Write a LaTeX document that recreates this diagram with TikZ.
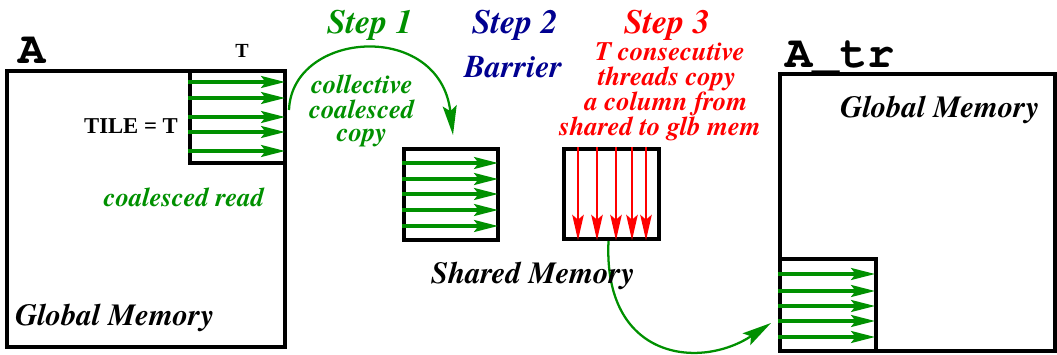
\documentclass[tikz,border=0pt]{standalone}
\usepackage{fontspec}
\setmainfont{Liberation Serif}
\newfontfamily\tbi{texgyretermes-bolditalic.otf}
\newfontfamily\cour{texgyrecursor-bold.otf}
\usetikzlibrary{arrows.meta,fit}
\definecolor{fgreen}{RGB}{0,144,0}
\definecolor{fblue}{RGB}{0,0,144}
\definecolor{fred}{RGB}{255,0,0}
\begin{document}
\begin{tikzpicture}[x=0.75pt,y=-0.75pt,
  box/.style={draw=black, line width=3pt, inner sep=0pt},
  garr/.style={draw=fgreen, line width=2.3pt, -{Stealth[length=18pt,width=9pt,inset=3.5pt]}},
  rarr/.style={draw=fred, line width=2.2pt, -{Stealth[length=19pt,width=8.5pt,inset=3.5pt]}},
  curvearr/.style={draw=fgreen, line width=1.7pt, -{Stealth[length=22pt,width=10.5pt,inset=4pt]}},
  txt/.style={inner sep=0pt, anchor=base},
  steplbl/.style={txt, font=\fontsize{25.5}{30}\selectfont\tbi},
  memlbl/.style={txt, font=\fontsize{23}{27}\selectfont\tbi},
  note/.style={txt, font=\fontsize{20}{24}\selectfont\tbi},
  mono/.style={txt, font=\fontsize{34}{36}\selectfont\cour},
]
\useasboundingbox (0,0) rectangle (1057,354);

% boxes
\node[box, fit={(7,71) (285,347)}] (A) {};
\node[box, fit={(190,71) (285,163)}] (tileA) {};
\node[box, fit={(404,149) (498,240)}] (sh1) {};
\node[box, fit={(564,149) (659,239)}] (sh2) {};
\node[box, fit={(780,74) (1055,351)}] (Atr) {};
\node[box, fit={(780,259) (876,351)}] (tileB) {};

% arrows inside tiles
\foreach \y in {82,98,117,132,151}
  \draw[garr] (tileA.west |- 0,\y) -- ([xshift=-1.5pt]tileA.east |- 0,\y);
\foreach \y in {163,179,194,210,226}
  \draw[garr] (sh1.west |- 0,\y) -- ([xshift=-1.5pt]sh1.east |- 0,\y);
\foreach \x in {578,597,616,632,646}
  \draw[rarr] (\x,0 |- sh2.north) -- ([yshift=0.5pt]\x,0 |- sh2.south);
\foreach \y in {274,291,306,321,337}
  \draw[garr] (tileB.west |- 0,\y) -- ([xshift=-2.25pt]tileB.east |- 0,\y);

% curved arrows
\draw[curvearr] ([shift={(2,-7)}]tileA.east) .. controls (292,30) and (440,20) .. ([shift={(2,-12)}]sh1.north);
\draw[curvearr] ([shift={(-3,0)}]sh2.south) .. controls (603,360) and (700,370) .. ([shift={(-7,18)}]tileB.west);

% labels
\node[mono] (lA) at (32,63) {A};
\node[mono] (lAtr) at (840,67) {A\_tr};
\node[txt, font=\fontsize{15}{17}\selectfont\bfseries] (lT) at (242,57) {T};
\node[txt, anchor=base east, font=\fontsize{17}{20}\selectfont\bfseries] (tile) at (178,133) {TILE = T};
\node[note, text=fgreen] (cread) at (184,206) {coalesced read};
\node[memlbl, anchor=base west] (gm1) at (15,325) {Global Memory};
\node[memlbl] (gm2) at (940,117) {Global Memory};
\node[memlbl] (shm) at (533,283) {Shared Memory};

\node[steplbl, text=fgreen] (s1) at (370,33) {Step 1};
\node[steplbl, text=fblue] (s2) at (515,33) {Step 2};
\node[steplbl, text=fred] (s3) at (667,33) {Step 3};
\node[txt, text=fblue, font=\fontsize{23.8}{28}\selectfont\tbi] (bar) at (513,77) {Barrier};

\node[note, text=fgreen] (cc1) at (362,93) {collective};
\node[note, text=fgreen] (cc2) at (362,118) {coalesced};
\node[note, text=fgreen] (cc3) at (362,141) {copy};

\node[note, text=fred] (t1) at (670,60) {T consecutive};
\node[note, text=fred] (t2) at (667,85) {threads copy};
\node[note, text=fred] (t3) at (666,110) {a column from};
\node[note, text=fred] (t4) at (660,135) {shared to glb mem};
\end{tikzpicture}
\end{document}
